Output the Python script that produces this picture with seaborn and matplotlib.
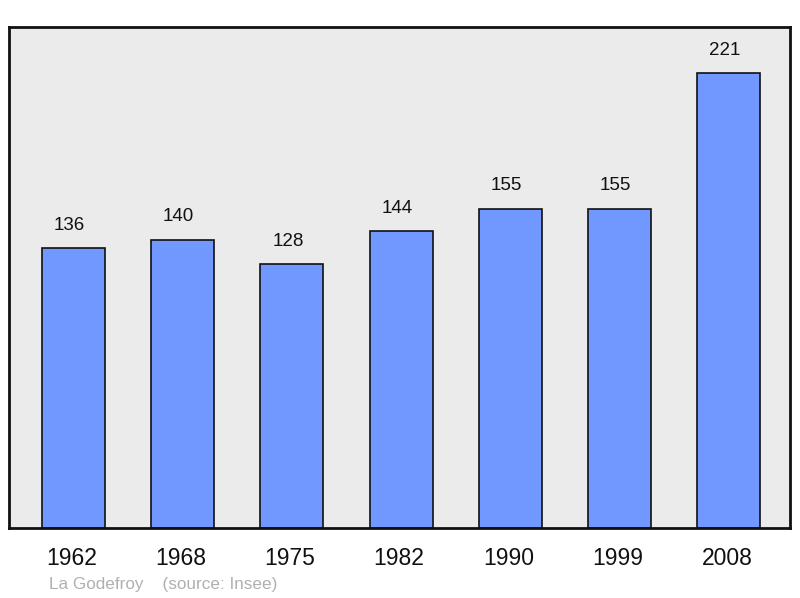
import matplotlib
matplotlib.use("Agg")
import matplotlib.pyplot as plt
import matplotlib.transforms as mtransforms
import seaborn as sns
import pandas as pd

years = ["1962", "1968", "1975", "1982", "1990", "1999", "2008"]
population = [136, 140, 128, 144, 155, 155, 221]

sns.set_style("white")
plt.rcParams['font.family'] = ['Liberation Sans', 'DejaVu Sans']

df = pd.DataFrame({"year": years, "pop": population})

fig = plt.figure(figsize=(8, 5.98), dpi=100)
ax = fig.add_axes([9/800, 1 - 528/598, (790-9)/800, (528-27)/598])
ax.set_facecolor("#ebebeb")

sns.barplot(data=df, x="year", y="pop", ax=ax, color="#7098ff", saturation=1,
            width=0.576, edgecolor="#111111", linewidth=1.2)

shift = mtransforms.offset_copy(ax.transData, fig=fig, x=-4, y=0, units="dots")
for i, v in enumerate(population):
    ax.text(i, v + 7, str(v), ha="center", va="bottom", fontsize=13.5,
            color="#111111", transform=shift)

ax.set_xlim(-0.59, 6.56)
ax.set_ylim(0, 243.3)
ax.set_yticks([])
ax.set_xlabel("")
ax.set_ylabel("")
ax.tick_params(axis="x", length=0, labelsize=16.5, pad=14, colors="#111111")
for lbl in ax.get_xticklabels():
    lbl.set_transform(lbl.get_transform() + mtransforms.ScaledTranslation(-2/100, 0, fig.dpi_scale_trans))
for s in ax.spines.values():
    s.set_visible(True)
    s.set_color("#111111")
    s.set_linewidth(2)

fig.text(49/800, 1 - 584/598, "La Godefroy    (source: Insee)", fontsize=12.3,
         color="#b0b0b0", ha="left", va="center")

fig.savefig("out.png", dpi=100)
